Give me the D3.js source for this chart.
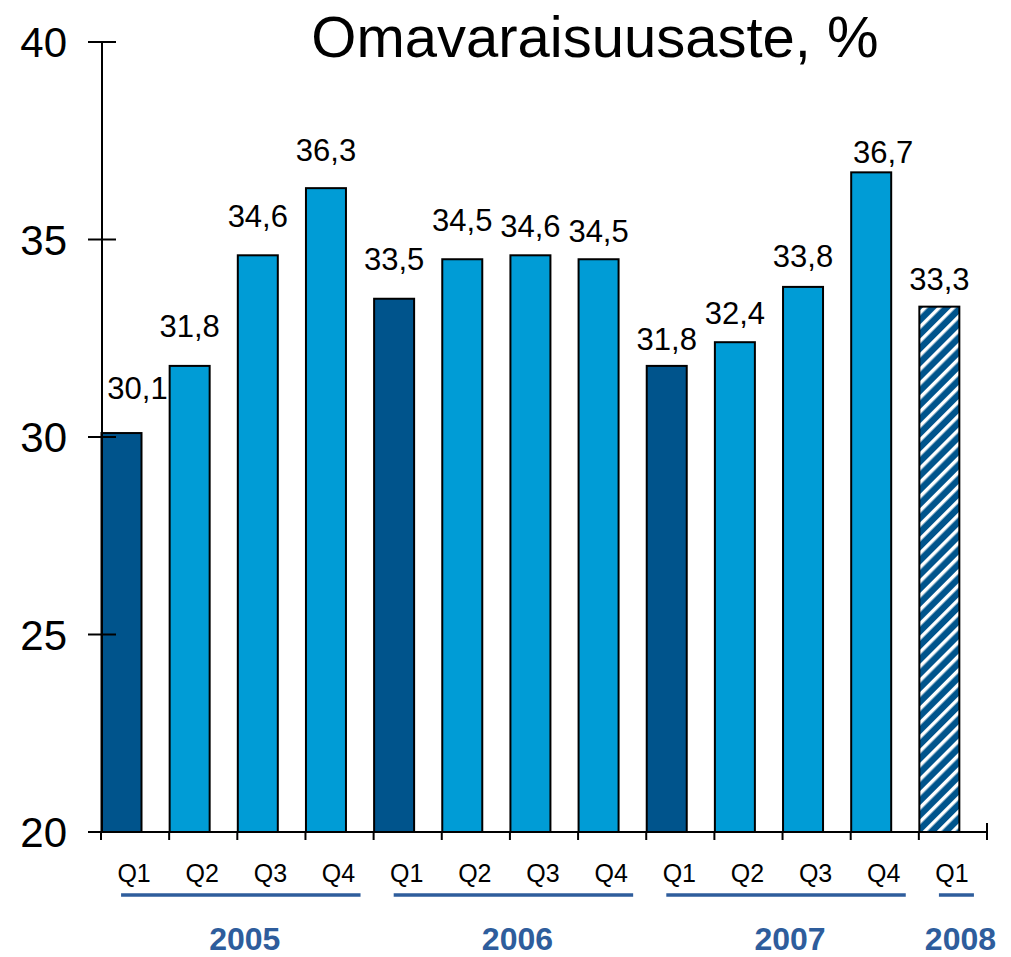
<!DOCTYPE html>
<html lang="fi">
<head>
    <meta charset="UTF-8">
    <title>Omavaraisuusaste, %</title>
    <script src="https://d3js.org/d3.v7.min.js"></script>
    <style>
        body { margin: 0; background: #fff; }
        text { font-family: "Liberation Sans", Arial, sans-serif; }
    </style>
</head>
<body>
<svg id="chart" width="1011" height="957"></svg>

<script>
    // data
    const quarters = ["Q1", "Q2", "Q3", "Q4", "Q1", "Q2", "Q3", "Q4", "Q1", "Q2", "Q3", "Q4", "Q1"];
    const values = [30.1, 31.8, 34.6, 36.3, 33.5, 34.5, 34.6, 34.5, 31.8, 32.4, 33.8, 36.7, 33.3];
    const barKind = ["q1", "q", "q", "q", "q1", "q", "q", "q", "q1", "q", "q", "q", "est"];
    const years = ["2005", "2006", "2007", "2008"];
    const yearFirst = [0, 4, 8, 12];
    const yearLast = [3, 7, 11, 12];
    const yTicks = [20, 25, 30, 35, 40];

    const width = 1011, height = 957;
    const svg = d3.select("#chart");

    const darkBlue = "#00548c";
    const lightBlue = "#009cd6";
    const yearBlue = "#2e5d9c";

    const x = d3.scaleBand().domain(d3.range(values.length)).range([101, 987]).padding(0);
    const y = d3.scaleLinear().domain([20, 40]).range([832, 42]);
    const barW = 40;

    // hatch for the last (estimate) bar
    const defs = svg.append("defs");
    const pat = defs.append("pattern")
        .attr("id", "hatch")
        .attr("patternUnits", "userSpaceOnUse")
        .attr("width", 10).attr("height", 10)
        .attr("patternTransform", "rotate(45)");
    pat.append("rect").attr("width", 10).attr("height", 10).attr("fill", darkBlue);
    pat.append("rect").attr("x", 0).attr("width", 3.5).attr("height", 10).attr("fill", "#fff");

    // title
    svg.append("text")
        .attr("x", 595).attr("y", 57)
        .attr("text-anchor", "middle")
        .attr("font-size", 58)
        .text("Omavaraisuusaste, %");

    // bars
    const fillFor = k => k === "q1" ? darkBlue : k === "est" ? "url(#hatch)" : lightBlue;
    svg.append("g").selectAll("rect")
        .data(values)
        .join("rect")
        .attr("x", (d, i) => x(i) + 0.5)
        .attr("y", d => y(d))
        .attr("width", barW)
        .attr("height", d => y(20) - y(d))
        .attr("fill", (d, i) => fillFor(barKind[i]))
        .attr("stroke", "#000")
        .attr("stroke-width", 2);

    // value labels (the original labels were nudged by hand)
    const labelGap = [34, 29, 28, 27, 29, 28, 18, 17, 16, 18, 20, 9, 17];
    svg.append("g").selectAll("text")
        .data(values)
        .join("text")
        .attr("x", (d, i) => x(i) + 0.5 + barW / 2 + (i === 0 ? 16 : 0) + (i === 11 ? 12 : 0))
        .attr("y", (d, i) => y(d) - labelGap[i])
        .attr("text-anchor", "middle")
        .attr("font-size", 31)
        .text(d => d.toFixed(1).replace(".", ","));

    // y axis
    const yAxis = svg.append("g").attr("stroke", "#000").attr("stroke-width", 2);
    yAxis.append("line").attr("x1", 102).attr("x2", 102).attr("y1", y(40)).attr("y2", y(20));
    yAxis.selectAll("line.tick")
        .data(yTicks)
        .join("line")
        .attr("class", "tick")
        .attr("x1", 88).attr("x2", 116)
        .attr("y1", d => y(d)).attr("y2", d => y(d));

    svg.append("g").selectAll("text")
        .data(yTicks)
        .join("text")
        .attr("x", 67)
        .attr("y", d => y(d))
        .attr("dy", "0.36em")
        .attr("text-anchor", "end")
        .attr("font-size", 42)
        .text(d => d);

    // x axis
    const xAxis = svg.append("g").attr("stroke", "#000").attr("stroke-width", 2);
    xAxis.append("line").attr("x1", 88).attr("x2", 988).attr("y1", y(20)).attr("y2", y(20));
    const bounds = d3.range(values.length + 1).map(i => i < values.length ? x(i) : x(values.length - 1) + x.step());
    xAxis.selectAll("line.tick")
        .data(bounds)
        .join("line")
        .attr("class", "tick")
        .attr("x1", d => d).attr("x2", d => d)
        .attr("y1", (d, i) => i === bounds.length - 1 ? y(20) - 9 : y(20))
        .attr("y2", y(20) + 8);

    svg.append("g").selectAll("text")
        .data(quarters)
        .join("text")
        .attr("x", (d, i) => x(i) + x.step() / 2 - 1)
        .attr("y", 882)
        .attr("text-anchor", "middle")
        .attr("font-size", 25)
        .text(d => d);

    // year underlines and labels
    const cx = i => x(i) + x.step() / 2;
    const yearG = svg.append("g");
    years.forEach((yr, j) => {
        const x0 = cx(yearFirst[j]) - 14;
        const x1 = cx(yearLast[j]) + 21;
        yearG.append("line")
            .attr("x1", x0).attr("x2", x1)
            .attr("y1", 895).attr("y2", 895)
            .attr("stroke", yearBlue)
            .attr("stroke-width", 3.5);
        yearG.append("text")
            .attr("x", (x0 + x1) / 2 + 4)
            .attr("y", 950)
            .attr("text-anchor", "middle")
            .attr("font-size", 32)
            .attr("font-weight", "bold")
            .attr("fill", yearBlue)
            .text(yr);
    });
</script>
</body>
</html>
